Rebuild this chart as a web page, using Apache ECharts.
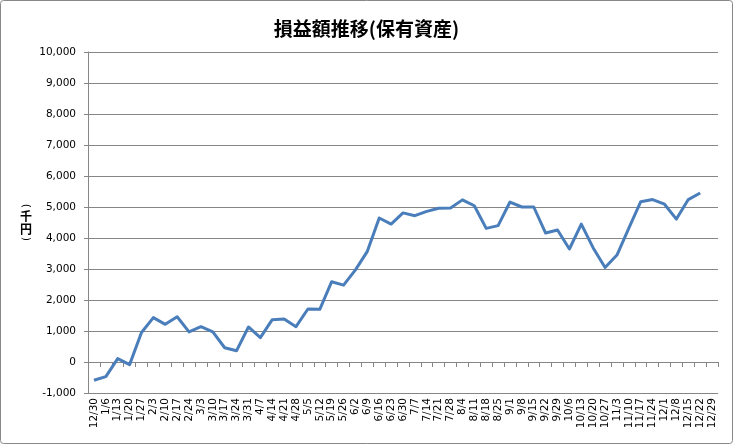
<!DOCTYPE html>
<html>
<head>
<meta charset="utf-8">
<script src="https://cdn.jsdelivr.net/npm/echarts@6/dist/echarts.min.js"></script>
<style>
html,body{margin:0;padding:0;background:#fff;}
#c{width:733px;height:444px;}
</style>
</head>
<body>
<div id="c"></div>
<script>
const categories = ["12/30","1/6","1/13","1/20","1/27","2/3","2/10","2/17","2/24","3/3","3/10","3/17","3/24","3/31","4/7","4/14","4/21","4/28","5/5","5/12","5/19","5/26","6/2","6/9","6/16","6/23","6/30","7/7","7/14","7/21","7/28","8/4","8/11","8/18","8/25","9/1","9/8","9/15","9/22","9/29","10/6","10/13","10/20","10/27","11/3","11/10","11/17","11/24","12/1","12/8","12/15","12/22","12/29"];
const profit = [-590,-470,110,-85,950,1430,1215,1460,970,1140,970,460,365,1130,785,1365,1390,1140,1710,1700,2590,2480,2970,3570,4645,4450,4810,4720,4860,4960,4970,5230,5040,4310,4400,5160,5000,5000,4160,4260,3645,4450,3680,3050,3450,4320,5170,5240,5090,4610,5240,5450,null];
const titleText = "損益額推移(保有資産)";
const yAxisNameChars = ["(", "千", "円", ")"];

const chart = echarts.init(document.getElementById('c'));
const gray = '#868686';
function makeName(cx, ys) {
  return yAxisNameChars.map((ch, i) => {
    const isParen = (ch === '(' || ch === ')');
    return {
      type: 'text', x: cx, y: ys[i], rotation: isParen ? -Math.PI / 2 : 0,
      style: {text: ch, fontFamily: isParen ? 'DejaVu Sans' : 'Noto Sans CJK JP',
        fontWeight: isParen ? 'normal' : 'bold', fontSize: isParen ? 11 : 12,
        fill: '#000', align: 'center', verticalAlign: 'middle'},
      silent: true
    };
  });
}
const nameYs = [206, 216, 229, 239];

chart.setOption({
  animation: false,
  backgroundColor: '#fff',
  title: {
    text: titleText, left: 'center', top: 14,
    textStyle: {fontFamily: 'Noto Sans CJK JP', fontSize: 19, fontWeight: 'bold', color: '#000'}
  },
  graphic: [
    {type: 'rect', shape: {x: 0.5, y: 0.5, width: 732, height: 443, r: 3}, style: {fill: 'none', stroke: '#888', lineWidth: 1}, silent: true}
  ].concat(makeName(26, nameYs)),
  grid: {left: 88, right: 15, top: 52, bottom: 51, containLabel: false},
  xAxis: [
    {
      type: 'category', data: categories, position: 'bottom', boundaryGap: true,
      axisLine: {show: true, onZero: true, lineStyle: {color: gray, width: 1}},
      axisTick: {show: true, inside: false, length: 5, interval: 0, alignWithLabel: false, lineStyle: {color: gray}},
      axisLabel: {show: false},
      splitLine: {show: false}
    },
    {
      type: 'category', data: categories, position: 'bottom', boundaryGap: true,
      axisLine: {show: false, onZero: false},
      axisTick: {show: false},
      axisLabel: {show: true, interval: 0, rotate: 90, margin: 5, fontFamily: 'DejaVu Sans', fontSize: 10.5, color: '#000'},
      splitLine: {show: false}
    }
  ],
  yAxis: {
    type: 'value', min: -1000, max: 10000, interval: 1000,
    axisLine: {show: true, lineStyle: {color: gray, width: 1}},
    axisTick: {show: true, length: 4, lineStyle: {color: gray}},
    axisLabel: {margin: 12, fontFamily: 'DejaVu Sans', fontSize: 10.5, color: '#000',
      formatter: v => v.toLocaleString('en-US')},
    splitLine: {show: true, lineStyle: {color: gray, width: 1}}
  },
  series: [{
    type: 'line', xAxisIndex: 0, data: profit, showSymbol: false, symbol: 'none',
    lineStyle: {color: '#4A7EBB', width: 3, join: 'round'},
    connectNulls: false
  }]
});
</script>
</body>
</html>
